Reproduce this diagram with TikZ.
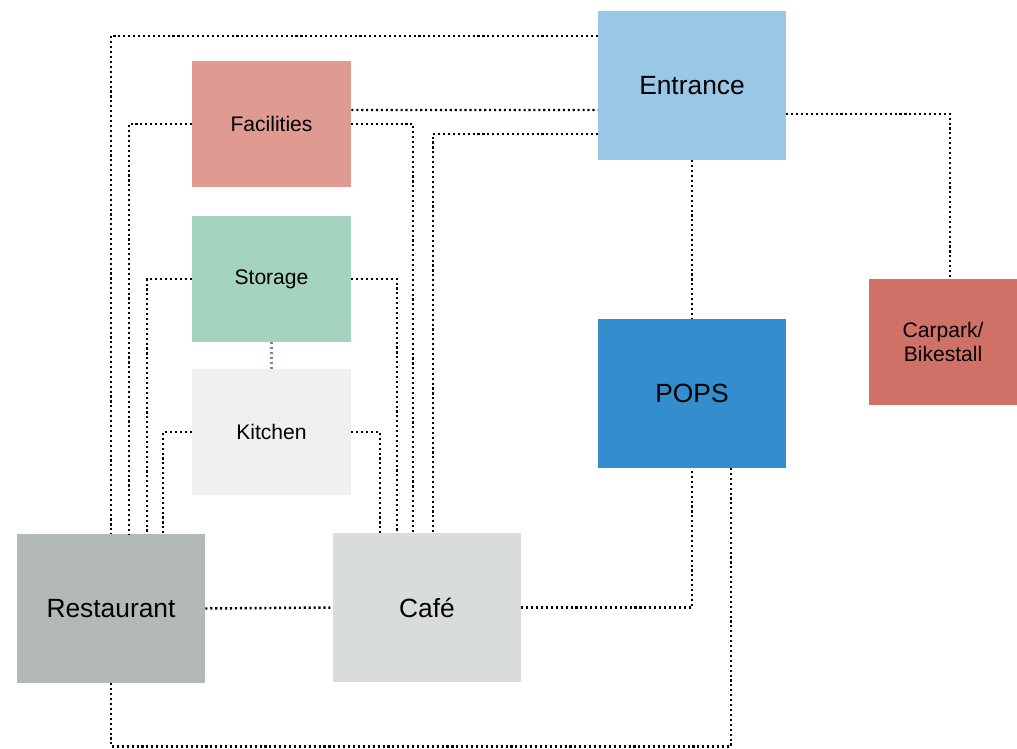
\documentclass[tikz,border=0pt]{standalone}
\usepackage{fontspec}
\setmainfont{Liberation Sans}
\usetikzlibrary{positioning,calc}
\definecolor{centrada}{HTML}{9BC7E6}
\definecolor{cservicio}{HTML}{DF9A92}
\definecolor{calmacen}{HTML}{A4D4BE}
\definecolor{ccocina}{HTML}{F0F0F0}
\definecolor{crest}{HTML}{B3BAB5}
\definecolor{ccafe}{HTML}{D9DDD9}
\definecolor{cpops}{HTML}{348DCD}
\definecolor{cparking}{HTML}{D07168}
\definecolor{cmalva}{HTML}{A86F86}
\tikzset{
  espacio/.style={draw=none,align=center,inner sep=2pt,font=\fontsize{15}{17}\selectfont,
                  minimum width=3.76cm,minimum height=2.98cm},
  espaciop/.style={espacio,font=\fontsize{12}{13.5}\selectfont,
                   minimum width=3.18cm,minimum height=2.52cm},
  enlace/.style={draw=black,line width=1.4pt,dash pattern=on 1.2pt off 1.6pt},
  enlacem/.style={enlace,draw=cmalva},
}
\begin{document}
\begin{tikzpicture}[x=0.02cm,y=-0.02cm]
\useasboundingbox (0,0) rectangle (1017,749);

\node[espacio,fill=centrada] (entrada) at (692,85.5) {Entrance};
\node[espaciop,fill=cservicio] (servicios) at (271.5,124) {Facilities};
\node[espaciop,fill=calmacen] (almacen) at (271.5,279) {Storage};
\node[espaciop,fill=ccocina] (cocina) at (271.5,432) {Kitchen};
\node[espacio,fill=crest] (rest) at (111,608.5) {Restaurant};
\node[espacio,fill=ccafe] (cafe) at (427,607.5) {Café};
\node[espacio,fill=cpops] (pops) at (692,393.5) {POPS};
\node[espaciop,fill=cparking,minimum width=2.96cm] (parking) at (943,342) {Carpark/\\Bikestall};

% entrada
\draw[enlace] ([yshift=0.99cm]entrada.west) -| (rest.north);
\draw[enlace] ([yshift=0.28cm]servicios.east) -- ([yshift=-0.49cm]entrada.west);
\draw[enlace] ([yshift=-0.97cm]entrada.west) -| ([xshift=0.12cm]cafe.north);
\draw[enlace] (entrada.south) -- (pops.north);
\draw[enlace] ([yshift=-0.57cm]entrada.east) -| ([xshift=0.14cm]parking.north);

% servicios, almacen, cocina
\draw[enlace] (servicios.west) -| ([xshift=0.36cm]rest.north);
\draw[enlace] (servicios.east) -| ([xshift=-0.28cm]cafe.north);
\draw[enlace] (almacen.west) -| ([xshift=0.72cm]rest.north);
\draw[enlace] (almacen.east) -| ([xshift=-0.6cm]cafe.north);
\draw[enlacem] (almacen.south) -- (cocina.north);
\draw[enlace] (cocina.west) -| ([xshift=1.04cm]rest.north);
\draw[enlace] (cocina.east) -| ([xshift=-0.94cm]cafe.north);

% planta baja
\draw[enlace] (rest.east) -- (cafe.west);
\draw[enlace] (cafe.east) -| (pops.south);
\draw[enlace] (rest.south) -- ++(0,63) -| ([xshift=0.78cm]pops.south);

\end{tikzpicture}
\end{document}
